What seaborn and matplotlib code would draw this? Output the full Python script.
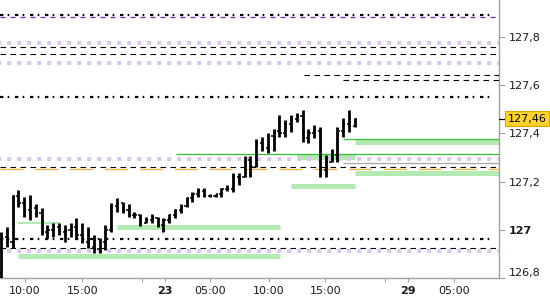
import matplotlib
matplotlib.use("Agg")
import matplotlib.pyplot as plt
import matplotlib.transforms as mtransforms
import seaborn as sns
import pandas as pd

# ---------------- data ----------------
bar_open = [126.82, 126.97, 126.95, 127.14, 127.11, 127.08, 127.09, 127.07, 126.99, 127.00,
            127.01, 126.99, 127.00, 127.01, 126.98, 126.95, 126.93, 126.92, 126.95, 127.00,
            127.10, 127.11, 127.08, 127.06, 127.06, 127.03, 127.04, 127.05, 127.02, 127.04,
            127.06, 127.08, 127.10, 127.13, 127.15, 127.16, 127.14, 127.14, 127.15, 127.17,
            127.17, 127.22, 127.22, 127.29, 127.26, 127.36, 127.34, 127.39, 127.41, 127.40,
            127.44, 127.46, 127.47, 127.38, 127.40, 127.41, 127.25, 127.28, 127.31, 127.41,
            127.44, 127.43]
bar_high = [126.99, 127.01, 127.145, 127.165, 127.135, 127.145, 127.105, 127.09, 127.02, 127.03,
            127.03, 127.02, 127.03, 127.05, 127.03, 127.01, 126.98, 126.965, 127.02, 127.11,
            127.13, 127.115, 127.105, 127.075, 127.065, 127.055, 127.065, 127.055, 127.05, 127.065,
            127.085, 127.105, 127.135, 127.155, 127.175, 127.175, 127.15, 127.15, 127.175, 127.185,
            127.235, 127.235, 127.305, 127.305, 127.375, 127.385, 127.40, 127.42, 127.475, 127.455,
            127.475, 127.485, 127.495, 127.42, 127.435, 127.425, 127.31, 127.335, 127.425, 127.465,
            127.495, 127.465]
bar_low = [126.80, 126.93, 126.925, 127.095, 127.055, 127.04, 127.055, 126.98, 126.965, 126.97,
           126.98, 126.95, 126.97, 126.96, 126.945, 126.925, 126.905, 126.905, 126.915, 126.99,
           127.075, 127.07, 127.055, 127.05, 127.015, 127.03, 127.03, 127.01, 126.99, 127.03,
           127.05, 127.07, 127.095, 127.115, 127.135, 127.135, 127.135, 127.135, 127.135, 127.16,
           127.155, 127.185, 127.22, 127.22, 127.26, 127.325, 127.32, 127.325, 127.385, 127.385,
           127.405, 127.445, 127.365, 127.36, 127.38, 127.22, 127.22, 127.28, 127.28, 127.385,
           127.405, 127.425]
bar_close = [126.97, 126.95, 127.14, 127.11, 127.08, 127.09, 127.07, 126.99, 127.00, 127.01,
             126.99, 127.00, 127.01, 126.98, 126.95, 126.93, 126.92, 126.95, 127.00, 127.10,
             127.11, 127.08, 127.06, 127.06, 127.03, 127.04, 127.05, 127.02, 127.04, 127.06,
             127.08, 127.10, 127.13, 127.15, 127.16, 127.14, 127.14, 127.15, 127.17, 127.17,
             127.22, 127.21, 127.29, 127.26, 127.36, 127.34, 127.39, 127.41, 127.40, 127.44,
             127.46, 127.47, 127.38, 127.40, 127.41, 127.25, 127.28, 127.31, 127.41, 127.44,
             127.43, 127.46]
last_price = 127.46

# horizontal levels: value, start bar, end bar, kind
level_value = [127.891, 127.883, 127.775, 127.759, 127.730, 127.692, 127.642, 127.622, 127.551,
               127.377, 127.363, 127.315, 127.303, 127.293, 127.276, 127.262, 127.252, 127.234,
               127.182, 127.029, 127.010, 126.963, 126.925, 126.910, 126.890]
level_start = [-0.2, -0.2, -0.2, -0.2, -0.2, -0.2, 52.2, 59.0, -0.2,
               59.0, 61.0, 30.2, 51.0, -0.2, 59.0, -0.2, -0.2, 61.0,
               50.0, 3.0, 20.0, -0.2, -0.2, -0.2, 3.0]
level_end = [85.2, 85.2, 85.9, 85.9, 85.9, 85.9, 85.9, 85.9, 85.2,
             85.9, 85.9, 85.9, 61.0, 85.9, 85.9, 85.9, 85.9, 85.9,
             61.0, 10.2, 48.1, 85.2, 85.9, 85.9, 48.1]
level_kind = ["dot", "pdash", "psq", "dash", "dash", "psq", "dash", "dash", "dot",
              "green", "band", "green", "band", "psq", "grey", "dash", "orange", "band",
              "band", "lband", "band", "dot", "dash", "psq", "band"]

x_tick_pos = [4.1, 14.05, 24.3, 28.2, 36.0, 46.2, 55.9, 66.2, 70.2, 78.1]
x_tick_labels = ["10:00", "15:00", "", "23", "05:00", "10:00", "15:00", "", "29", "05:00"]
x_bold = ["23", "29"]
y_tick_pos = [126.8, 127.0, 127.2, 127.4, 127.6, 127.8]
y_tick_labels = ["126,8", "127", "127,2", "127,4", "127,6", "127,8"]

# ---------------- style ----------------
sns.set_style("white")
plt.rcParams["font.family"] = ["DejaVu Sans"]
plt.rcParams["lines.scale_dashes"] = False

styles = {
    "dot":    dict(color="black", lw=1.6, ls=(0, (2.4, 3.1, 1.2, 4.1)), z=3),
    "pdash":  dict(color="#7a2cc0", lw=0.95, ls=(0, (3.6, 3.6)), z=3),
    "psq":    dict(color="#dcc5f0", lw=2.9, ls=(2.0, (2.9, 4.3)), z=3),
    "dash":   dict(color="black", lw=0.8, ls=(0, (4.0, 3.2)), z=3),
    "orange": dict(color="#f5b342", lw=0.95, ls=(0, (16.5, 8.6)), z=3),
    "green":  dict(color="#3dbf3d", lw=0.95, ls="-", z=3),
    "grey":   dict(color="#a8a8a8", lw=0.95, ls="-", z=3),
    "band":   dict(color="#b3e9b3", lw=3.6, ls="-", z=2),
    "lband":  dict(color="#b3e9b3", lw=1.5, ls="-", z=2),
}

fig = plt.figure(figsize=(5.5, 3.0), dpi=100)
fig.patch.set_facecolor("white")
ax = fig.add_axes([0.0, 22 / 300, 499 / 550, 278 / 300])
ax.set_facecolor("white")

# levels
for v, x0, x1, k in zip(level_value, level_start, level_end, level_kind):
    s = styles[k]
    ax.plot([x0, x1], [v, v], color=s["color"], lw=s["lw"], linestyle=s["ls"],
            solid_capstyle="butt", dash_capstyle="butt", zorder=s["z"])

# OHLC bars via seaborn
rows = []
seg = 0
for i, (o, h, l, c) in enumerate(zip(bar_open, bar_high, bar_low, bar_close)):
    rows.append(dict(x=i, y=l, seg=seg, part="hl"))
    rows.append(dict(x=i, y=h, seg=seg, part="hl"))
    seg += 1
    rows.append(dict(x=i - 0.38, y=o, seg=seg, part="oc"))
    rows.append(dict(x=i, y=o, seg=seg, part="oc"))
    seg += 1
    rows.append(dict(x=i, y=c, seg=seg, part="oc"))
    rows.append(dict(x=i + 0.38, y=c, seg=seg, part="oc"))
    seg += 1
df = pd.DataFrame(rows)

sns.lineplot(data=df[df.part == "hl"], x="x", y="y", units="seg", estimator=None,
             sort=False, color="black", linewidth=2.0, ax=ax, legend=False, zorder=5)
sns.lineplot(data=df[df.part == "oc"], x="x", y="y", units="seg", estimator=None,
             sort=False, color="black", linewidth=1.1, ax=ax, legend=False, zorder=5)
for line in ax.get_lines():
    line.set_solid_capstyle("butt")

# axes
ax.set_xlim(-0.17, 85.86)
ax.set_ylim(126.801, 127.953)
ax.set_xlabel("")
ax.set_ylabel("")
for sp in ["top", "left"]:
    ax.spines[sp].set_visible(False)
for sp in ["right", "bottom"]:
    ax.spines[sp].set_visible(True)
    ax.spines[sp].set_color("#a0a0a0")
    ax.spines[sp].set_linewidth(1.0)

ax.yaxis.tick_right()
ax.set_yticks(y_tick_pos)
ax.set_yticklabels(y_tick_labels)
ax.set_xticks(x_tick_pos)
ax.set_xticklabels(x_tick_labels)
ax.tick_params(axis="both", which="major", direction="out", color="#a0a0a0",
               labelsize=8, labelcolor="#1a1a1a", width=0.8)
ax.tick_params(axis="y", length=4, pad=3, right=True, left=False)
ax.tick_params(axis="x", length=3, pad=2.5, bottom=True)

for lab in ax.get_xticklabels():
    if lab.get_text() in x_bold:
        lab.set_fontweight("bold")
for lab in ax.get_yticklabels():
    if lab.get_text() == "127":
        lab.set_fontweight("bold")
    if lab.get_text() == "126,8":
        lab.set_va("bottom")

# last price tag
trans = mtransforms.blended_transform_factory(ax.transAxes, ax.transData)
ax.plot([1.0, 1.013], [last_price, last_price], color="black", lw=0.9,
        transform=trans, clip_on=False, zorder=6)
ax.text(1.017, last_price, f"{last_price:.2f}".replace(".", ","), transform=trans,
        ha="left", va="center", fontsize=8, color="black", zorder=7, clip_on=False,
        bbox=dict(boxstyle="square,pad=0.22", fc="#ffd22a", ec="#e3a400", lw=0.8))

fig.savefig("out.png", dpi=100, facecolor="white")
